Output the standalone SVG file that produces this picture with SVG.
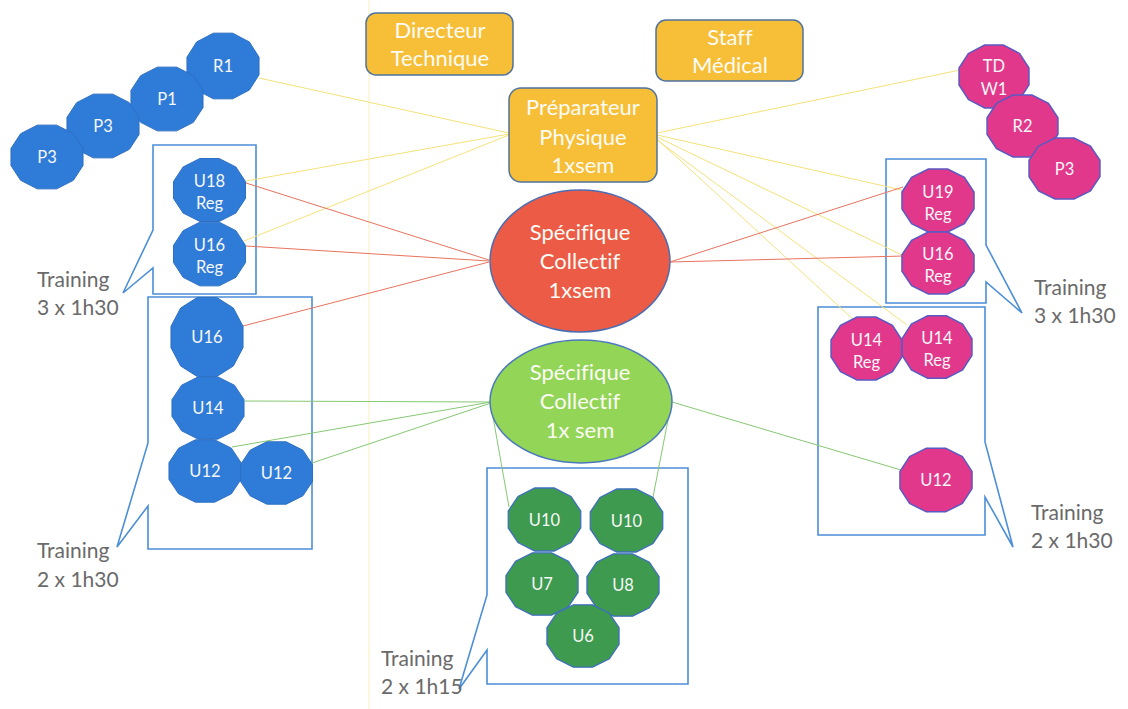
<svg xmlns="http://www.w3.org/2000/svg" width="1128" height="709" viewBox="0 0 1128 709">
<style>
text{font-family:Lato,"Open Sans","Liberation Sans",sans-serif;font-variant-ligatures:none;}
.lbl{fill:#F7F7F7;font-size:16.5px;text-anchor:middle;}
.big{fill:#FBFBF5;font-size:22px;text-anchor:middle;}
.tr{fill:#6A6A6A;font-size:21px;}
.blue{fill:#2F7CD8;stroke:#2E6FC2;stroke-width:1;}
.pink{fill:#E2388C;stroke:#5B58C2;stroke-width:1.5;}
.dgreen{fill:#3D9A4F;stroke:#3E6FBF;stroke-width:1.3;}
.box{fill:#F7BF38;stroke:#50739E;stroke-width:1.5;}
.callout{fill:none;stroke:#4C8FD8;stroke-width:1.6;}
.y{stroke:#F4E27A;stroke-width:1;fill:none;}
.r{stroke:#E8735E;stroke-width:1;fill:none;}
.g{stroke:#86C873;stroke-width:1;fill:none;}
</style>
<defs>
<path id="dod" vector-effect="non-scaling-stroke" d="M0.9659,0.2588 L0.7071,0.7071 L0.2588,0.9659 L-0.2588,0.9659 L-0.7071,0.7071 L-0.9659,0.2588 L-0.9659,-0.2588 L-0.7071,-0.7071 L-0.2588,-0.9659 L0.2588,-0.9659 L0.7071,-0.7071 L0.9659,-0.2588 Z"/>
</defs>
<rect width="1128" height="709" fill="#FFFFFF"/>
<line x1="369" y1="0" x2="369" y2="709" stroke="#FBF5D2" stroke-width="1.5"/>

<g id="callouts">
<path class="callout" d="M153,145 H256 V294 H153 V268 L123,293 L153,230 Z"/>
<path class="callout" d="M148,297 H312 V549 H148 V506 L117,547 L148,443 Z"/>
<path class="callout" d="M487,468 H688 V684 H487 V650 L459,689 L487,595 Z"/>
<path class="callout" d="M886,159 H986 V245 L1022,313 L986,282 V303 H886 Z"/>
<path class="callout" d="M818,307 H985 V442 L1013,547 L985,497 V535 H818 Z"/>
<text class="tr" x="37" y="287">Training</text>
<text class="tr" x="37" y="315">3 x 1h30</text>
<text class="tr" x="37" y="558">Training</text>
<text class="tr" x="37" y="587">2 x 1h30</text>
<text class="tr" x="381" y="666">Training</text>
<text class="tr" x="381" y="694">2 x 1h15</text>
<text class="tr" x="1034" y="295">Training</text>
<text class="tr" x="1034" y="323">3 x 1h30</text>
<text class="tr" x="1031" y="520">Training</text>
<text class="tr" x="1031" y="548">2 x 1h30</text>
</g>

<g id="connectors">
<line class="y" x1="509" y1="133" x2="259" y2="78"/>
<line class="y" x1="509" y1="134" x2="246" y2="181"/>
<line class="y" x1="509" y1="135" x2="244" y2="241"/>
<line class="y" x1="657" y1="133" x2="960" y2="70"/>
<line class="y" x1="657" y1="135" x2="902" y2="190"/>
<line class="y" x1="657" y1="137" x2="904" y2="256"/>
<line class="y" x1="657" y1="139" x2="856" y2="322"/>
<line class="y" x1="657" y1="140" x2="907" y2="325"/>
<line class="r" x1="489" y1="260" x2="246" y2="183"/>
<line class="r" x1="489" y1="261" x2="246" y2="246"/>
<line class="r" x1="489" y1="262" x2="243" y2="326"/>
<line class="r" x1="670" y1="262" x2="903" y2="187"/>
<line class="r" x1="670" y1="262" x2="904" y2="256"/>
<line class="g" x1="491" y1="402" x2="245" y2="401"/>
<line class="g" x1="491" y1="402" x2="232" y2="447"/>
<line class="g" x1="491" y1="403" x2="312" y2="463"/>
<line class="g" x1="493" y1="417" x2="509" y2="507"/>
<line class="g" x1="668" y1="420" x2="653" y2="497"/>
<line class="g" x1="672" y1="402" x2="901" y2="470"/>
</g>

<g id="n-directeur"><rect class="box" x="366" y="13" width="147" height="62" rx="10"/>
<text class="big" x="440" y="38">Directeur</text><text class="big" x="440" y="66">Technique</text></g>
<g id="n-staff"><rect class="box" x="656" y="20" width="147" height="61" rx="10"/>
<text class="big" x="730" y="45">Staff</text><text class="big" x="730" y="73">Médical</text></g>
<g id="n-prep"><rect class="box" x="509" y="88" width="148" height="94" rx="12"/>
<text class="big" x="583" y="115">Préparateur</text><text class="big" x="583" y="145">Physique</text><text class="big" x="583" y="173">1xsem</text></g>
<g id="n-spec-red"><ellipse cx="580" cy="261" rx="90" ry="71" fill="#EC5B45" stroke="#4B6DB2" stroke-width="1.5"/>
<text class="big" x="580" y="240">Spécifique</text><text class="big" x="580" y="269">Collectif</text><text class="big" x="580" y="298">1xsem</text></g>
<g id="n-spec-green"><ellipse cx="581" cy="401.5" rx="91" ry="61.5" fill="#93D556" stroke="#4A79BE" stroke-width="1.5"/>
<text class="big" x="580" y="380">Spécifique</text><text class="big" x="580" y="409">Collectif</text><text class="big" x="580" y="438">1x sem</text></g>

<g id="n-R1" transform="translate(223,66)"><use href="#dod" class="blue" transform="scale(37.3,34)"/><text class="lbl" y="6">R1</text></g>
<g id="n-P1" transform="translate(167,99)"><use href="#dod" class="blue" transform="scale(37.3,33)"/><text class="lbl" y="6">P1</text></g>
<g id="n-P3a" transform="translate(103,126)"><use href="#dod" class="blue" transform="scale(37.3,33)"/><text class="lbl" y="6">P3</text></g>
<g id="n-P3b" transform="translate(47,157)"><use href="#dod" class="blue" transform="scale(37.3,33)"/><text class="lbl" y="6">P3</text></g>
<g id="n-U18Reg" transform="translate(209.5,190)"><use href="#dod" class="blue" transform="scale(37.3,32.6)"/><text class="lbl" y="-3">U18</text><text class="lbl" y="19">Reg</text></g>
<g id="n-U16Reg-l" transform="translate(209.5,254)"><use href="#dod" class="blue" transform="scale(37.3,33)"/><text class="lbl" y="-3">U16</text><text class="lbl" y="19">Reg</text></g>
<g id="n-U16-l" transform="translate(207,337)"><use href="#dod" class="blue" transform="scale(37.3,41)"/><text class="lbl" y="6">U16</text></g>
<g id="n-U14-l" transform="translate(208,408)"><use href="#dod" class="blue" transform="scale(37.3,32.3)"/><text class="lbl" y="6">U14</text></g>
<g id="n-U12-l1" transform="translate(205,471)"><use href="#dod" class="blue" transform="scale(37.3,32.3)"/><text class="lbl" y="6">U12</text></g>
<g id="n-U12-l2" transform="translate(276.5,473)"><use href="#dod" class="blue" transform="scale(37.3,32.3)"/><text class="lbl" y="6">U12</text></g>

<g id="n-U10a" transform="translate(544.5,519.5)"><use href="#dod" class="dgreen" transform="scale(37.5,32.6)"/><text class="lbl" y="6">U10</text></g>
<g id="n-U10b" transform="translate(626.5,520.5)"><use href="#dod" class="dgreen" transform="scale(37.5,32.6)"/><text class="lbl" y="6">U10</text></g>
<g id="n-U7" transform="translate(542,584)"><use href="#dod" class="dgreen" transform="scale(37.3,32.3)"/><text class="lbl" y="6">U7</text></g>
<g id="n-U8" transform="translate(623,585)"><use href="#dod" class="dgreen" transform="scale(37.3,32.3)"/><text class="lbl" y="6">U8</text></g>
<g id="n-U6" transform="translate(583,636)"><use href="#dod" class="dgreen" transform="scale(37.3,32.3)"/><text class="lbl" y="6">U6</text></g>

<g id="n-TDW1" transform="translate(994,76.5)"><use href="#dod" class="pink" transform="scale(36.2,32.6)"/><text class="lbl" y="-5">TD</text><text class="lbl" y="18">W1</text></g>
<g id="n-R2" transform="translate(1022.5,126)"><use href="#dod" class="pink" transform="scale(36.7,32)"/><text class="lbl" y="6">R2</text></g>
<g id="n-P3r" transform="translate(1064.5,168.5)"><use href="#dod" class="pink" transform="scale(36.7,31.6)"/><text class="lbl" y="6">P3</text></g>
<g id="n-U19Reg" transform="translate(938,200.5)"><use href="#dod" class="pink" transform="scale(37.3,32.6)"/><text class="lbl" y="-3">U19</text><text class="lbl" y="19">Reg</text></g>
<g id="n-U16Reg-r" transform="translate(938,263)"><use href="#dod" class="pink" transform="scale(37.3,32)"/><text class="lbl" y="-3">U16</text><text class="lbl" y="19">Reg</text></g>
<g id="n-U14Reg-a" transform="translate(866.5,348.5)"><use href="#dod" class="pink" transform="scale(36.7,32.6)"/><text class="lbl" y="-3">U14</text><text class="lbl" y="19">Reg</text></g>
<g id="n-U14Reg-b" transform="translate(937,347)"><use href="#dod" class="pink" transform="scale(36.2,32.3)"/><text class="lbl" y="-3">U14</text><text class="lbl" y="19">Reg</text></g>
<g id="n-U12-r" transform="translate(936,480)"><use href="#dod" class="pink" transform="scale(37.3,33)"/><text class="lbl" y="6">U12</text></g>
</svg>
